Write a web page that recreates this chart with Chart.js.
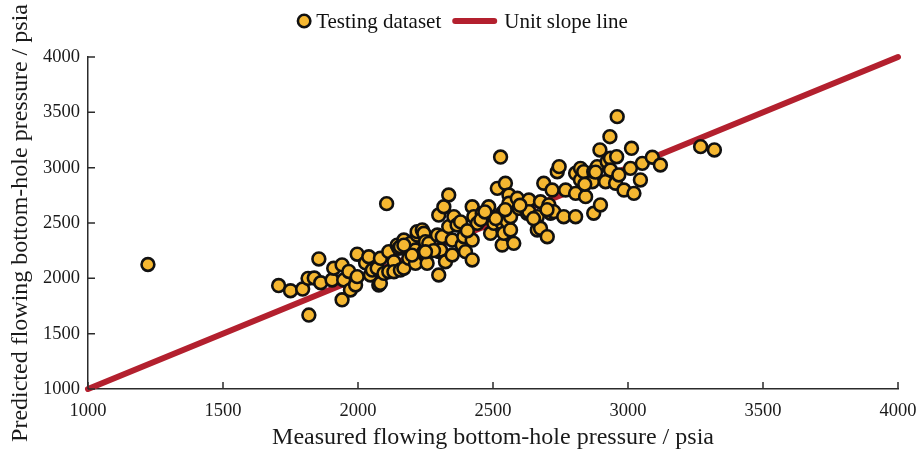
<!DOCTYPE html>
<html>
<head>
<meta charset="utf-8">
<script src="https://cdn.jsdelivr.net/npm/chart.js@4/dist/chart.umd.min.js"></script>
<style>
  html, body { margin: 0; padding: 0; background: #fff; }
  #wrap { width: 918px; height: 453px; }
</style>
</head>
<body>
<div id="wrap"><canvas id="bhpChart" width="918" height="453"></canvas></div>
<script>
// measured vs predicted flowing bottom-hole pressure (psia)
const measured = [
  1222, 1706, 1750, 1795, 1815, 1838, 1855, 1862, 1818, 1904,
  1910, 1941, 1941, 1947, 1966, 1972, 1991, 1997, 1997, 2028,
  2040, 2046, 2053, 2071, 2077, 2083, 2083, 2096, 2106, 2114,
  2114, 2133, 2133, 2145, 2151, 2157, 2157, 2170, 2170, 2188,
  2194, 2213, 2213, 2219, 2219, 2238, 2244, 2244, 2250, 2256,
  2262, 2294, 2299, 2299, 2299, 2306, 2312, 2318, 2324, 2336,
  2336, 2349, 2349, 2355, 2367, 2386, 2392, 2398, 2423, 2423,
  2423, 2429, 2442, 2460, 2484, 2484, 2491, 2503, 2516, 2528,
  2534, 2534, 2534, 2540, 2546, 2553, 2559, 2559, 2565, 2565,
  2577, 2590, 2596, 2627, 2633, 2633, 2664, 2664, 2676, 2676,
  2688, 2701, 2707, 2713, 2719, 2725, 2738, 2745, 2762, 2769,
  2806, 2806, 2806, 2824, 2824, 2836, 2843, 2868, 2873, 2873,
  2886, 2896, 2898, 2917, 2923, 2933, 2935, 2935, 2954, 2958,
  2960, 2966, 2985, 3009, 3013, 3022, 3046, 3053, 3090, 3120,
  3269, 3320, 2380, 2455, 2510, 2600, 2200, 2280, 2405, 2470,
  2545, 2650, 2700, 2840, 2880, 2170, 2250
];
const predicted = [
  2125, 1935, 1888, 1903, 2000, 2003, 2175, 1960, 1668, 1985,
  2091, 2122, 1806, 1985, 2062, 1895, 1940, 2218, 2015, 2140,
  2195, 2030, 2075, 2091, 1940, 2181, 1955, 2045, 2675, 2060,
  2241, 2150, 2060, 2300, 2271, 2075, 2286, 2346, 2091, 2181,
  2316, 2136, 2256, 2391, 2422, 2437, 2407, 2241, 2331, 2136,
  2316, 2391, 2572, 2241, 2030, 2256, 2376, 2647, 2150, 2753,
  2467, 2211, 2346, 2557, 2482, 2301, 2376, 2241, 2166, 2346,
  2647, 2557, 2497, 2588, 2647, 2557, 2407, 2497, 2813, 3096,
  2588, 2497, 2301, 2407, 2859, 2512, 2753, 2678, 2437, 2557,
  2316, 2723, 2633, 2588, 2708, 2602, 2557, 2437, 2692, 2452,
  2859, 2376, 2663, 2588, 2798, 2602, 2963, 3009, 2557, 2798,
  2949, 2768, 2557, 2994, 2889, 2964, 2738, 2873, 2964, 2588,
  3009, 3160, 2663, 2873, 3054, 3280, 3085, 2979, 2859, 3099,
  3461, 2934, 2798, 2994, 3175, 2768, 2889, 3039, 3094, 3024,
  3190, 3160, 2510, 2530, 2540, 2660, 2210, 2250, 2430, 2600,
  2620, 2540, 2620, 2850, 2960, 2300, 2240
];

// unit slope reference line end points
const unitLineX = [1000, 4000];
const unitLineY = [1000, 4000];

const axisMin = 1000;
const axisMax = 4000;
const axisStep = 500;

const seriesNames = ['Testing dataset', 'Unit slope line'];
const xTitle = 'Measured flowing bottom-hole pressure / psia';
const yTitle = 'Predicted flowing bottom-hole pressure / psia';

const dotFill = '#F5B731';
const dotEdge = '#111111';
const lineRed = '#B3202E';
const axisInk = '#2b2b2b';
const serif = '"Liberation Serif", "Times New Roman", serif';

const testPoints = measured.map((m, i) => ({ x: m, y: predicted[i] }));
const unitPoints = unitLineX.map((v, i) => ({ x: v, y: unitLineY[i] }));

// short tick marks pointing into the plot
const innerTicks = {
  id: 'innerTicks',
  afterDraw(chart) {
    const ctx = chart.ctx;
    const area = chart.chartArea;
    const xs = chart.scales.x;
    const ys = chart.scales.y;
    const len = 7;
    ctx.save();
    ctx.strokeStyle = axisInk;
    ctx.lineWidth = 1.5;
    ctx.beginPath();
    for (const t of xs.ticks) {
      const px = xs.getPixelForValue(t.value);
      ctx.moveTo(px, area.bottom);
      ctx.lineTo(px, area.bottom - len);
    }
    for (const t of ys.ticks) {
      const py = ys.getPixelForValue(t.value);
      ctx.moveTo(area.left, py);
      ctx.lineTo(area.left + len, py);
    }
    ctx.stroke();
    ctx.restore();
  }
};

// legend row on top: yellow dot + red bar
const topLegend = {
  id: 'topLegend',
  afterDraw(chart) {
    const ctx = chart.ctx;
    const cy = 21;
    ctx.save();
    ctx.font = '21px ' + serif;
    ctx.textBaseline = 'middle';
    ctx.textAlign = 'left';
    const w1 = ctx.measureText(seriesNames[0]).width;
    const w2 = ctx.measureText(seriesNames[1]).width;
    const total = 12 + 12 + w1 + 12 + 43 + 8 + w2;
    let x = 466 - total / 2;

    ctx.beginPath();
    ctx.arc(x + 6, cy, 6.2, 0, Math.PI * 2);
    ctx.fillStyle = dotFill;
    ctx.fill();
    ctx.lineWidth = 2.6;
    ctx.strokeStyle = dotEdge;
    ctx.stroke();
    x += 12 + 6;
    ctx.fillStyle = '#111';
    ctx.fillText(seriesNames[0], x, cy + 1);
    x += w1 + 12;

    ctx.beginPath();
    ctx.moveTo(x + 2, cy);
    ctx.lineTo(x + 41, cy);
    ctx.lineWidth = 6;
    ctx.lineCap = 'round';
    ctx.strokeStyle = lineRed;
    ctx.stroke();
    x += 43 + 8;
    ctx.fillStyle = '#111';
    ctx.fillText(seriesNames[1], x, cy + 1);
    ctx.restore();
  }
};

const ctxBhp = document.getElementById('bhpChart');

const bhpChart = new Chart(ctxBhp, {
  type: 'scatter',
  data: {
    datasets: [
      {
        label: seriesNames[0],
        data: testPoints,
        backgroundColor: dotFill,
        borderColor: dotEdge,
        borderWidth: 2.6,
        pointRadius: 6.4,
        pointHoverRadius: 6.4
      },
      {
        type: 'line',
        label: seriesNames[1],
        data: unitPoints,
        borderColor: lineRed,
        borderWidth: 6,
        borderCapStyle: 'round',
        pointRadius: 0,
        fill: false,
        clip: false
      }
    ]
  },
  options: {
    responsive: false,
    animation: false,
    devicePixelRatio: 1,
    layout: { padding: { top: 57, right: 0, bottom: 0, left: 0 } },
    plugins: {
      legend: { display: false },
      tooltip: { enabled: false }
    },
    scales: {
      x: {
        type: 'linear',
        min: axisMin,
        max: axisMax,
        afterFit(scale) {
          scale.height = 64;
          scale.paddingLeft = 0;
          scale.paddingRight = 20;
        },
        ticks: {
          stepSize: axisStep,
          color: '#1a1a1a',
          padding: 11,
          maxRotation: 0,
          font: { family: serif, size: 18.5 },
          callback: v => String(v)
        },
        grid: { display: false, drawTicks: false },
        border: { display: true, color: axisInk, width: 1.5 },
        title: {
          display: true,
          text: xTitle,
          color: '#1a1a1a',
          font: { family: serif, size: 24, lineHeight: 1 },
          padding: { top: 0, bottom: 3 }
        }
      },
      y: {
        type: 'linear',
        min: axisMin,
        max: axisMax,
        afterFit(scale) { scale.width = 88; },
        ticks: {
          stepSize: axisStep,
          color: '#1a1a1a',
          padding: 8,
          font: { family: serif, size: 18.5 },
          callback: v => String(v)
        },
        grid: { display: false, drawTicks: false },
        border: { display: true, color: axisInk, width: 1.5 },
        title: {
          display: true,
          text: yTitle,
          color: '#1a1a1a',
          font: { family: serif, size: 24, lineHeight: 1 },
          padding: { top: 9, bottom: 0 }
        }
      }
    }
  },
  plugins: [innerTicks, topLegend]
});
</script>
</body>
</html>
